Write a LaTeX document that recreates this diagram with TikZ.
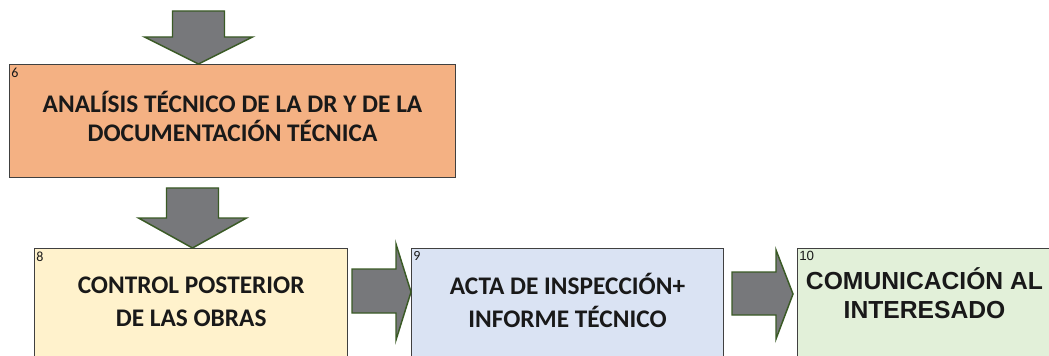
\documentclass[tikz,border=0pt]{standalone}
\usepackage{fontspec}
\setmainfont{Carlito}
\newfontfamily\arialfont{Liberation Sans}
\definecolor{analisisfill}{HTML}{F4B183}
\definecolor{controlfill}{HTML}{FFF2CC}
\definecolor{actafill}{HTML}{DAE3F3}
\definecolor{comunicafill}{HTML}{E2F0D9}
\definecolor{arrowgray}{HTML}{77787B}
\definecolor{arrowgreen}{HTML}{3A5A25}
\begin{document}
\begin{tikzpicture}[
        x=0.75pt, y=-0.75pt,
        box/.style={rectangle,draw=black!75,line width=0.75pt,anchor=north west,
            align=center,inner sep=0pt,text=black!90,
            font=\bfseries\fontsize{19}{24.5}\selectfont},
        tag/.style={anchor=north west,inner xsep=1.5pt,inner ysep=2.5pt,text=black!90,
            font=\fontsize{10.5}{10.5}\selectfont},
        % tag/.style={anchor=north west,inner sep=1pt},
        blockarrow/.style={draw=arrowgreen,line width=1.1pt,fill=arrowgray,line join=miter},
        ]
    \useasboundingbox (0,0) rectangle (1049,356);
    \clip (0,0) rectangle (1049,356);

    \node (analisis) [box,fill=analisisfill,minimum width=334.5pt,minimum height=84.75pt,
        font=\bfseries\fontsize{19}{21.75}\selectfont,text depth=7.5pt,
        label={[tag]north west:6}] at (9,64)
        {ANALÍSIS TÉCNICO DE LA DR Y DE LA\\DOCUMENTACIÓN TÉCNICA};
    \node (control) [box,fill=controlfill,minimum width=235pt,minimum height=82.5pt,
        text depth=3pt,label={[tag]north west:8}] at (34,248)
        {CONTROL POSTERIOR\\DE LAS OBRAS};
    \node (acta) [box,fill=actafill,minimum width=234pt,minimum height=82.5pt,
        text depth=5pt,label={[tag]north west:9}] at (411,248)
        {ACTA DE INSPECCIÓN+\\INFORME TÉCNICO};
    \node (comunica) [box,fill=comunicafill,minimum width=190.5pt,minimum height=82.5pt,
        font=\arialfont\bfseries\fontsize{18.5}{21.75}\selectfont,text depth=15pt,
        label={[tag,font=\arialfont\fontsize{10}{10}\selectfont]north west:10}] at (797,248)
        {COMUNICACIÓN AL\\INTERESADO};

    % block arrows, drawn back from the tip
    \draw[blockarrow] ([xshift=-25.5pt]analisis.north) -- ++(-54,-27) -- ++(28,0)
        -- ++(0,-26) -- ++(52,0) -- ++(0,26) -- ++(28,0) -- cycle;
    \draw[blockarrow] ([xshift=1pt]control.north) -- ++(-54,-30) -- ++(28,0)
        -- ++(0,-30) -- ++(52,0) -- ++(0,30) -- ++(28,0) -- cycle;
    \draw[blockarrow] ([yshift=-33pt]acta.north west) -- ++(-15,-48) -- ++(0,25)
        -- ++(-44,0) -- ++(0,44) -- ++(44,0) -- ++(0,27) -- cycle;
    \draw[blockarrow] ([xshift=-3pt,yshift=-34.5pt]comunica.north west) -- ++(-17,-44) -- ++(0,22)
        -- ++(-44,0) -- ++(0,43) -- ++(44,0) -- ++(0,24) -- cycle;
\end{tikzpicture}
\end{document}
